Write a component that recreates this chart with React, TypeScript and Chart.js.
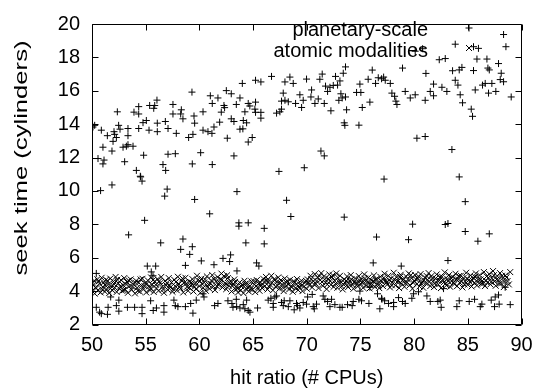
import React, { useEffect, useRef } from "react";
import { Chart, registerables } from "chart.js";

Chart.register(...registerables);

const xTicks = [50, 55, 60, 65, 70, 75, 80, 85, 90];
const yTicks = [2, 4, 6, 8, 10, 12, 14, 16, 18, 20];
const seriesLabels = ["planetary-scale", "atomic modalities"];
const xTitle = "hit ratio (# CPUs)";
const yTitle = "seek time (cylinders)";

const planetaryUpper: [number, number][] = [
  [50.09, 13.83], [50.25, 13.93], [50.87, 13.64], [51.43, 13.31], [51.02, 12.62], [52.05, 13.55], [52.11, 13.39],
  [52.36, 14.74], [52.48, 13.93], [52.61, 13.7], [51.96, 12.97], [51.86, 12.39], [52.27, 13.2], [52.89, 12.62],
  [53.2, 12.68], [53.35, 12.77], [53.35, 13.74], [53.35, 13.31], [53.82, 12.68], [53.91, 14.72], [54.35, 14.61],
  [54.35, 15.05], [54.35, 13.74], [54.75, 14.09], [55.06, 14.22], [55.31, 13.64], [55.37, 15.12], [55.84, 15.12],
  [55.75, 14.95], [56.05, 15.44], [56.08, 14.06], [56.08, 13.55], [56.83, 14.16], [57.08, 13.74], [57.54, 15.18],
  [57.54, 14.61], [57.85, 13.45], [58.26, 14.61], [58.32, 14.86], [58.47, 14.32], [59.0, 13.2], [59.31, 15.92],
  [59.4, 13.39], [59.5, 14.49], [59.56, 14.06], [60.34, 14.74], [60.34, 13.64], [60.8, 13.55], [61.02, 15.7],
  [61.2, 15.24], [61.17, 13.45], [61.36, 13.83], [61.73, 15.57], [61.89, 14.12], [62.04, 14.72], [62.29, 15.12],
  [62.35, 14.99], [62.51, 16.01], [62.6, 13.16], [62.97, 15.82], [62.97, 14.32], [63.22, 14.16], [63.44, 15.18],
  [63.78, 15.57], [64.0, 16.44], [64.55, 15.24], [64.7, 15.09], [65.23, 15.32], [65.17, 14.9], [65.23, 14.71],
  [65.73, 14.71], [65.73, 14.36], [65.23, 16.63], [65.73, 16.53], [64.24, 14.74], [64.4, 14.08], [64.09, 14.22],
  [63.78, 13.7], [64.05, 13.72], [64.92, 13.2], [64.55, 12.93], [66.72, 16.86], [67.19, 14.66], [67.5, 14.74],
  [67.65, 14.9], [67.65, 15.38], [67.81, 15.86], [67.97, 15.43], [68.28, 15.34], [67.97, 16.53], [68.43, 16.82],
  [68.74, 16.44], [68.96, 15.24], [69.36, 15.76], [69.52, 15.0], [69.67, 15.43], [69.98, 16.7], [70.45, 16.05],
  [70.39, 15.63], [70.76, 15.24], [71.07, 15.51], [71.22, 16.69], [71.44, 17.0], [71.63, 15.24], [71.75, 16.28],
  [71.94, 15.96], [72.16, 16.21], [72.25, 14.8], [72.47, 16.32], [72.68, 16.86], [72.87, 16.34], [73.09, 16.59],
  [73.18, 15.82], [73.4, 17.05], [73.3, 15.57], [72.99, 15.43], [73.61, 15.63], [73.61, 17.43], [73.71, 14.86],
  [73.49, 14.08], [73.55, 13.93], [74.64, 15.9], [75.04, 15.9], [74.95, 16.4], [74.86, 13.94], [75.17, 15.0],
  [75.72, 16.69], [75.88, 15.32], [76.1, 17.24], [76.41, 16.44], [76.66, 16.78], [76.97, 16.72],
  [77.16, 16.82], [77.31, 16.63], [77.78, 16.44], [77.93, 15.86], [78.18, 15.67], [78.4, 15.18], [78.3, 15.38],
  [79.17, 15.96], [78.92, 17.36], [79.64, 15.57], [80.1, 15.76], [80.1, 18.37], [80.79, 18.52], [81.1, 17.04],
  [81.03, 15.43], [81.5, 15.96], [81.81, 16.4], [81.81, 15.7], [82.34, 17.86], [82.59, 16.21], [82.9, 17.93],
  [83.05, 15.96], [83.58, 17.2], [83.83, 18.79], [83.83, 16.63], [84.08, 16.34], [84.2, 17.25], [84.45, 17.4],
  [84.29, 15.76], [84.51, 15.28], [85.32, 14.9], [85.44, 14.47], [85.53, 18.64], [85.99, 18.54], [85.53, 17.21],
  [85.69, 16.05], [85.85, 17.9], [86.37, 16.34], [86.62, 16.44], [86.78, 17.9], [86.87, 17.36], [87.0, 17.25],
  [86.93, 15.86], [87.24, 16.44], [87.61, 15.96], [87.86, 17.63], [88.11, 17.05], [88.02, 16.67], [88.33, 16.54],
  [88.33, 19.37], [88.55, 18.64], [89.04, 15.63],
];

const planetaryMiddle: [number, number][] = [
  [50.56, 11.94], [51.12, 11.85], [51.02, 11.62], [53.04, 11.75], [54.13, 11.23], [54.5, 10.88], [54.81, 12.14],
  [56.61, 11.58], [56.86, 11.23], [57.08, 12.2], [57.76, 12.23], [59.34, 11.62], [60.12, 12.29], [61.2, 11.58],
  [63.22, 12.1], [71.32, 12.39], [71.63, 12.1], [67.41, 11.17], [69.77, 11.39], [80.26, 13.16], [81.03, 13.26],
  [83.52, 12.48], [84.2, 10.84], [50.8, 10.02], [51.86, 10.36], [54.53, 10.84], [54.66, 10.59], [57.0, 10.11],
  [56.77, 9.69], [59.56, 9.49], [63.5, 9.96], [60.96, 8.63], [54.9, 8.24], [53.41, 7.37], [56.4, 6.89],
  [58.47, 7.12], [58.26, 6.5], [59.34, 6.66], [59.1, 6.2], [58.7, 5.54], [60.18, 5.81], [61.36, 5.58],
  [62.2, 5.96], [62.91, 6.17], [62.82, 5.77], [55.15, 5.5], [55.93, 5.5], [55.52, 5.15], [55.68, 4.92],
  [50.4, 5.06], [63.5, 5.21], [63.68, 8.09], [63.68, 7.89], [64.55, 8.09], [66.04, 7.76], [66.04, 6.83],
  [64.33, 6.89], [68.12, 9.44], [68.52, 8.47], [65.33, 5.69], [65.54, 5.5], [73.49, 8.43], [76.5, 7.24],
  [76.19, 5.69], [77.2, 10.71], [84.76, 9.36], [79.86, 8.01], [82.9, 7.99], [83.15, 8.05], [84.76, 7.57],
  [87.0, 7.43], [85.94, 6.99], [79.48, 7.08], [83.15, 5.83], [78.8, 5.5],
];

const planetaryLower: [number, number][] = [
  [50.4, 3.03], [50.71, 2.74], [50.87, 2.65], [51.5, 3.03], [51.44, 2.61], [51.74, 3.65], [52.27, 3.13],
  [52.5, 3.46], [52.5, 2.8], [53.3, 3.03], [53.97, 3.03], [54.66, 3.03], [54.66, 2.65], [55.46, 3.42],
  [55.7, 2.84], [56.0, 2.99], [56.7, 3.13], [56.7, 2.74], [57.63, 3.46], [57.76, 3.13], [58.0, 3.07],
  [58.7, 3.07], [59.19, 3.26], [59.4, 2.68], [59.71, 3.46], [60.43, 3.65], [60.34, 3.84], [61.42, 3.13],
  [61.73, 3.26], [62.66, 3.42], [63.03, 3.26], [63.13, 3.03], [63.44, 3.51],
  [63.47, 3.07], [63.78, 2.99], [64.09, 3.19], [64.24, 2.94], [64.55, 2.84], [64.71, 2.74], [64.4, 3.46],
  [65.42, 2.99], [66.41, 3.46], [66.66, 3.57], [66.88, 3.26], [66.88, 3.03], [67.03, 3.65], [67.19, 3.71],
  [67.65, 3.32], [67.9, 3.42], [67.81, 3.13], [68.28, 3.07], [68.43, 3.42], [68.83, 2.88], [69.05, 3.26],
  [69.14, 3.13], [69.36, 2.99], [69.67, 3.32], [69.98, 3.22], [70.08, 3.65], [70.51, 3.8], [70.6, 3.07],
  [70.7, 2.94], [70.91, 3.22], [71.53, 3.71], [71.69, 3.51], [71.94, 3.38], [72.16, 3.07], [72.31, 3.51],
  [72.62, 3.19], [73.09, 3.03], [73.3, 3.03], [73.8, 3.19], [74.23, 3.13], [74.33, 3.38], [74.95, 4.0],
  [74.86, 3.51], [75.1, 3.42], [75.79, 3.26], [75.88, 4.23], [76.59, 3.84], [76.81, 2.94], [76.97, 3.57],
  [77.0, 3.51], [77.25, 3.42], [77.62, 3.26], [78.09, 3.32], [78.09, 3.07], [78.55, 3.61], [78.92, 3.38],
  [79.17, 3.26], [79.79, 3.57], [79.95, 3.84], [80.41, 3.96], [81.19, 3.71], [81.5, 3.38], [82.21, 3.38],
  [82.43, 3.46], [82.52, 3.03], [82.74, 4.15], [83.98, 3.07], [84.2, 3.42], [85.13, 3.38], [85.63, 3.51],
  [86.16, 3.07], [86.31, 3.22], [87.18, 3.46], [87.55, 3.65], [87.86, 3.77], [87.49, 3.07], [87.92, 3.22],
  [88.95, 3.19], [88.48, 4.23],
];

const atomicPoints: [number, number][] = [
  [50.0, 4.0], [50.1, 4.35], [50.2, 4.62], [50.25, 3.85], [50.4, 4.18], [50.5, 4.71], [50.55, 4.05], [50.7, 4.44],
  [50.8, 3.92], [50.9, 4.8], [51.0, 4.25], [51.1, 4.52], [51.2, 3.97], [51.3, 4.68], [51.35, 4.12], [51.5, 4.4],
  [51.6, 3.88], [51.7, 4.75], [51.8, 4.3], [51.9, 4.05], [52.0, 4.58], [52.1, 4.22], [52.2, 4.85], [52.3, 3.95],
  [52.45, 4.47], [52.55, 4.15], [52.7, 4.66], [52.8, 4.02], [52.9, 4.36], [53.0, 4.78], [53.1, 4.1], [53.25, 4.55],
  [53.35, 3.9], [53.5, 4.3], [53.6, 4.7], [53.7, 4.08], [53.85, 4.42], [54.0, 3.86], [54.1, 4.62], [54.2, 4.2],
  [54.35, 4.5], [54.45, 3.98], [54.6, 4.34], [54.7, 4.74], [54.8, 4.12], [54.95, 4.46],
  [55.05, 3.92], [55.2, 4.64], [55.3, 4.28], [55.4, 4.05], [55.5, 4.82], [55.6, 4.38], [55.75, 3.95], [55.85, 4.58],
  [56.0, 4.18], [56.1, 4.72], [56.2, 4.02], [56.35, 4.48], [56.45, 4.85], [56.55, 4.25], [56.7, 3.9], [56.8, 4.6],
  [56.9, 4.36], [57.05, 4.08], [57.15, 4.78], [57.3, 4.22], [57.4, 4.52], [57.5, 3.96], [57.65, 4.68], [57.75, 4.3],
  [57.9, 4.05], [58.0, 4.86], [58.1, 4.42], [58.25, 4.15], [58.35, 4.62], [58.5, 3.92], [58.6, 4.5], [58.7, 4.8],
  [58.85, 4.26], [58.95, 4.02], [59.1, 4.56], [59.2, 4.34], [59.35, 4.72], [59.45, 3.98], [59.6, 4.44], [59.7, 4.12],
  [59.85, 4.66],
  [60.0, 4.3], [60.1, 3.9], [60.2, 4.75], [60.35, 4.2], [60.45, 4.52], [60.6, 4.02], [60.7, 4.88], [60.85, 4.4],
  [60.95, 4.14], [61.1, 4.64], [61.2, 4.96], [61.3, 4.28], [61.45, 4.06], [61.55, 4.58], [61.7, 4.84], [61.8, 4.36],
  [61.95, 4.7], [62.05, 5.05], [62.15, 4.22], [62.3, 4.9], [62.4, 4.48], [62.5, 4.12], [62.65, 4.78], [62.75, 4.32],
  [62.9, 4.6], [63.0, 3.98], [63.15, 4.42], [63.25, 4.7], [63.4, 4.1], [63.5, 4.28], [63.6, 3.92],
  [63.75, 4.52], [63.85, 4.05], [64.0, 4.38], [64.1, 3.88], [64.2, 4.62], [64.35, 4.15], [64.45, 4.46], [64.6, 3.98],
  [64.7, 4.3], [64.85, 4.58], [64.95, 4.08], [65.1, 4.4], [65.2, 3.94], [65.35, 4.66], [65.45, 4.22], [65.6, 4.02],
  [65.7, 4.5], [65.85, 4.18], [65.95, 4.74],
  [66.1, 4.3], [66.2, 4.85], [66.35, 4.1], [66.45, 4.6], [66.6, 4.38], [66.7, 4.92], [66.85, 4.05], [66.95, 4.7],
  [67.1, 4.26], [67.2, 4.54], [67.35, 4.82], [67.45, 4.14], [67.6, 4.66], [67.7, 4.4], [67.85, 4.0], [67.95, 4.76],
  [68.1, 4.32], [68.2, 4.58], [68.35, 4.1], [68.45, 4.68], [68.6, 4.24], [68.7, 3.96], [68.85, 4.5], [68.95, 4.18],
  [69.1, 4.72], [69.2, 4.06], [69.35, 4.4], [69.5, 4.62], [69.6, 4.0], [69.75, 4.28], [69.85, 4.52],
  [70.0, 4.14], [70.1, 4.7], [70.25, 4.36], [70.35, 4.92], [70.5, 4.22], [70.6, 4.6], [70.75, 5.02], [70.85, 4.44],
  [71.0, 4.8], [71.1, 4.18], [71.25, 4.66], [71.35, 5.08], [71.5, 4.32], [71.6, 4.88], [71.75, 4.5], [71.85, 4.12],
  [72.0, 4.74], [72.1, 5.0], [72.25, 4.38], [72.35, 4.84], [72.5, 4.26], [72.6, 4.62], [72.75, 5.06], [72.85, 4.2],
  [73.0, 4.56],
  [73.1, 4.92], [73.25, 4.3], [73.35, 4.1], [73.5, 4.7], [73.6, 4.48], [73.75, 4.88], [73.85, 4.24], [74.0, 4.62],
  [74.1, 4.96], [74.25, 4.38], [74.35, 4.14], [74.5, 4.76], [74.6, 4.52], [74.75, 4.28], [74.85, 4.9], [75.0, 4.44],
  [75.1, 4.68], [75.25, 4.2], [75.35, 5.0], [75.5, 4.58], [75.6, 4.34], [75.75, 4.82], [75.85, 4.16], [76.0, 4.64],
  [76.1, 4.4], [76.25, 4.94], [76.35, 4.26], [76.5, 4.72], [76.6, 4.48], [76.75, 4.18], [76.85, 4.86],
  [77.0, 4.56], [77.1, 4.3], [77.25, 5.04], [77.35, 4.62], [77.5, 4.4], [77.6, 4.92], [77.75, 4.22], [77.85, 4.76],
  [78.0, 4.5], [78.1, 5.1], [78.25, 4.34], [78.35, 4.84], [78.5, 4.6], [78.6, 4.18], [78.75, 4.98], [78.85, 4.44],
  [79.0, 4.7], [79.1, 4.26], [79.25, 4.88], [79.35, 4.52], [79.5, 5.06], [79.6, 4.36], [79.75, 4.78], [79.85, 4.14],
  [80.0, 4.62], [80.1, 4.96], [80.25, 4.42], [80.35, 4.74], [80.5, 4.28], [80.6, 5.02], [80.75, 4.56], [80.85, 4.2],
  [81.0, 4.82], [81.1, 4.46], [81.25, 4.68], [81.35, 5.08], [81.5, 4.3], [81.6, 4.9], [81.75, 4.58], [81.85, 4.24],
  [82.0, 4.76], [82.1, 5.0], [82.25, 4.4], [82.35, 4.64], [82.5, 4.18], [82.6, 4.86], [82.75, 4.52], [82.85, 5.12],
  [83.0, 4.34], [83.1, 4.72], [83.25, 4.96], [83.35, 4.26], [83.5, 4.6], [83.6, 4.84], [83.75, 4.42], [83.85, 5.04],
  [84.0, 4.3], [84.1, 4.7], [84.25, 4.5], [84.35, 4.92], [84.5, 4.22], [84.6, 4.78], [84.75, 4.58], [84.85, 5.1],
  [85.0, 4.38], [85.1, 4.66],
  [85.25, 4.94], [85.35, 4.28], [85.5, 4.8], [85.6, 4.48], [85.75, 5.06], [85.85, 4.34], [86.0, 4.72], [86.1, 4.96],
  [86.25, 4.44], [86.35, 4.62], [86.5, 5.14], [86.6, 4.3], [86.75, 4.88], [86.85, 4.54], [87.0, 5.02], [87.1, 4.4],
  [87.25, 4.76], [87.35, 5.2], [87.5, 4.58], [87.6, 4.32], [87.75, 4.9], [87.85, 4.66], [88.0, 5.08], [88.1, 4.46],
  [88.25, 4.78], [88.35, 4.24], [88.5, 4.94], [88.7, 4.6], [88.95, 5.14],
];

const atomicExtra: [number, number][] = [
  [50.05, 4.48], [50.32, 4.22], [50.62, 4.58], [50.95, 4.1], [51.22, 4.36], [51.45, 4.62], [51.72, 4.15],
  [52.05, 4.42], [52.35, 4.68], [52.62, 4.28], [52.95, 4.05], [53.18, 4.4], [53.42, 4.64], [53.78, 4.25],
  [54.05, 4.5], [54.28, 4.02], [54.52, 4.7], [54.88, 4.3], [55.12, 4.45], [55.45, 4.18], [55.68, 4.66],
  [55.95, 4.38], [56.25, 4.58], [56.62, 4.1], [56.98, 4.5], [57.22, 4.32], [57.58, 4.12], [57.82, 4.55],
  [58.18, 4.28], [58.42, 4.76], [58.78, 4.46], [59.05, 4.2], [59.28, 4.52], [59.55, 4.26], [59.78, 4.92],
  [60.05, 4.6], [60.28, 4.42], [60.52, 4.7], [60.78, 4.25], [61.05, 4.44], [61.38, 4.72], [61.62, 4.3],
  [61.88, 4.52], [62.1, 4.68], [62.35, 4.35], [62.58, 4.95], [62.82, 4.5], [63.08, 4.3], [63.32, 4.55],
  [63.55, 4.15], [63.92, 4.28], [64.28, 4.45], [64.52, 4.2], [64.78, 4.12], [65.05, 4.6], [65.28, 4.3],
  [65.52, 4.45], [65.78, 4.35], [66.05, 4.55], [66.28, 4.62], [66.52, 4.25], [66.78, 4.5], [67.05, 4.68],
  [67.28, 4.35], [67.52, 4.5], [67.78, 4.22], [68.05, 4.55], [68.28, 4.4], [68.52, 4.28], [68.78, 4.6],
  [69.05, 4.42], [69.28, 4.25], [69.55, 4.35], [69.92, 4.62], [70.18, 4.5], [70.42, 4.72], [70.68, 4.4],
  [70.92, 4.6], [71.18, 4.9], [71.42, 4.55], [71.68, 4.7], [71.92, 4.4], [72.18, 4.6], [72.42, 4.95],
  [72.68, 4.45], [72.92, 4.8], [73.18, 4.55], [73.42, 4.4], [73.68, 4.62], [73.92, 4.45], [74.18, 4.7],
  [74.42, 4.55], [74.68, 4.4], [74.92, 4.65], [75.18, 4.5], [75.42, 4.75], [75.68, 4.55], [75.92, 4.4],
  [76.18, 4.6], [76.42, 4.7], [76.68, 4.35], [76.92, 4.62], [77.18, 4.8], [77.42, 4.52], [77.68, 4.66],
  [77.92, 4.35], [78.18, 4.7], [78.42, 4.55], [78.68, 4.85], [78.92, 4.62], [79.18, 4.48], [79.42, 4.7],
  [79.68, 4.95], [79.92, 4.5], [80.18, 4.7], [80.42, 4.88], [80.68, 4.45], [80.92, 4.65], [81.18, 4.9],
  [81.42, 4.55], [81.68, 4.75], [81.92, 4.45], [82.18, 4.62], [82.42, 4.85], [82.68, 4.68], [82.92, 4.45],
  [83.18, 4.6], [83.42, 4.8], [83.68, 4.52], [83.92, 4.7], [84.18, 4.9], [84.42, 4.6], [84.68, 4.4],
  [84.92, 4.75], [85.18, 4.55], [85.42, 4.65], [85.68, 4.85], [85.92, 4.55], [86.18, 4.7], [86.42, 4.45],
  [86.68, 4.62], [86.92, 4.8], [87.18, 4.55], [87.42, 4.95], [87.68, 4.7], [87.92, 4.45], [88.18, 4.92],
  [88.42, 4.55], [88.6, 4.82], [88.82, 4.4],
];

const FONT = "'Liberation Sans', Arial, Helvetica, sans-serif";

const gnuplotFrame = {
  id: "gnuplotFrame",
  afterDraw(chart: any) {
    const { ctx, chartArea: a, scales } = chart;
    const xs = scales.x;
    const ys = scales.y;
    ctx.save();
    ctx.strokeStyle = "#000";
    ctx.lineWidth = 1;
    const L = Math.round(a.left) + 0.5;
    const R = Math.round(a.right) - 0.5;
    const T = Math.round(a.top) + 0.5;
    const B = Math.round(a.bottom) - 0.5;
    const tl = 6;
    ctx.beginPath();
    ctx.rect(L, T, R - L, B - T);
    xTicks.forEach((v) => {
      const p = Math.round(xs.getPixelForValue(v)) + 0.5;
      ctx.moveTo(p, B);
      ctx.lineTo(p, B - tl);
      ctx.moveTo(p, T);
      ctx.lineTo(p, T + tl);
    });
    yTicks.forEach((v) => {
      const p = Math.round(ys.getPixelForValue(v)) + 0.5;
      ctx.moveTo(L, p);
      ctx.lineTo(L + tl, p);
      ctx.moveTo(R, p);
      ctx.lineTo(R - tl, p);
    });
    ctx.stroke();

    ctx.fillStyle = "#000";
    ctx.font = `20px ${FONT}`;
    ctx.textAlign = "center";
    ctx.textBaseline = "middle";
    ctx.fillText(xTitle, (a.left + a.right) / 2, 378);

    ctx.save();
    ctx.translate(22, 158);
    ctx.rotate(-Math.PI / 2);
    ctx.font = `19px ${FONT}`;
    const w = ctx.measureText(yTitle).width;
    ctx.scale(235 / w, 1);
    ctx.fillText(yTitle, 0, 0);
    ctx.restore();

    ctx.textAlign = "right";
    ctx.fillText(seriesLabels[0], 428, 30);
    ctx.fillText(seriesLabels[1], 428, 51);

    const mx = 469;
    ctx.beginPath();
    ctx.moveTo(mx - 3.5, 28);
    ctx.lineTo(mx + 3.5, 28);
    ctx.moveTo(mx, 28 - 3.5);
    ctx.lineTo(mx, 28 + 3.5);
    ctx.moveTo(mx - 3, 48 - 3);
    ctx.lineTo(mx + 3, 48 + 3);
    ctx.moveTo(mx - 3, 48 + 3);
    ctx.lineTo(mx + 3, 48 - 3);
    ctx.stroke();
    ctx.restore();
  },
};

export default function App() {
  const canvasRef = useRef<HTMLCanvasElement | null>(null);

  useEffect(() => {
    if (!canvasRef.current) return;
    const planetary = [...planetaryUpper, ...planetaryMiddle, ...planetaryLower].map(([x, y]) => ({ x, y }));
    const atomic = [...atomicPoints, ...atomicExtra].map(([x, y]) => ({ x, y }));
    const chart = new Chart(canvasRef.current, {
      type: "scatter",
      data: {
        datasets: [
          {
            label: seriesLabels[1],
            data: atomic,
            pointStyle: "crossRot",
            pointRadius: 4.2,
            pointHoverRadius: 4.2,
            borderColor: "#000",
            backgroundColor: "#000",
            borderWidth: 1,
            order: 0,
          },
          {
            label: seriesLabels[0],
            data: planetary,
            pointStyle: "cross",
            pointRadius: 3.5,
            pointHoverRadius: 3.5,
            borderColor: "#000",
            backgroundColor: "#000",
            borderWidth: 1,
            order: 1,
          },
        ],
      },
      options: {
        animation: false,
        responsive: false,
        maintainAspectRatio: false,
        events: [],
        layout: { padding: { left: 0, right: 25.5, top: 13.3, bottom: 0 } },
        plugins: { legend: { display: false }, tooltip: { enabled: false }, title: { display: false } },
        scales: {
          x: {
            type: "linear",
            min: 50,
            max: 90,
            afterBuildTicks: (s: any) => {
              s.ticks = xTicks.map((v) => ({ value: v }));
            },
            afterFit: (s: any) => {
              s.height = 64.5;
            },
            ticks: { autoSkip: false, maxRotation: 0, padding: 9, color: "#000", font: { family: FONT, size: 20 } },
            grid: { display: false, drawTicks: false },
            border: { display: false },
          },
          y: {
            type: "linear",
            min: 2,
            max: 20,
            afterBuildTicks: (s: any) => {
              s.ticks = yTicks.map((v) => ({ value: v }));
            },
            afterFit: (s: any) => {
              s.width = 92;
            },
            ticks: { autoSkip: false, padding: 12, color: "#000", font: { family: FONT, size: 20 } },
            grid: { display: false, drawTicks: false },
            border: { display: false },
          },
        },
      },
      plugins: [gnuplotFrame],
    });
    return () => chart.destroy();
  }, []);

  return (
    <div style={{ position: "fixed", left: 0, top: 0, width: 547, height: 389, background: "#fff" }}>
      <canvas ref={canvasRef} width={547} height={389} style={{ display: "block", width: 547, height: 389 }} />
    </div>
  );
}
